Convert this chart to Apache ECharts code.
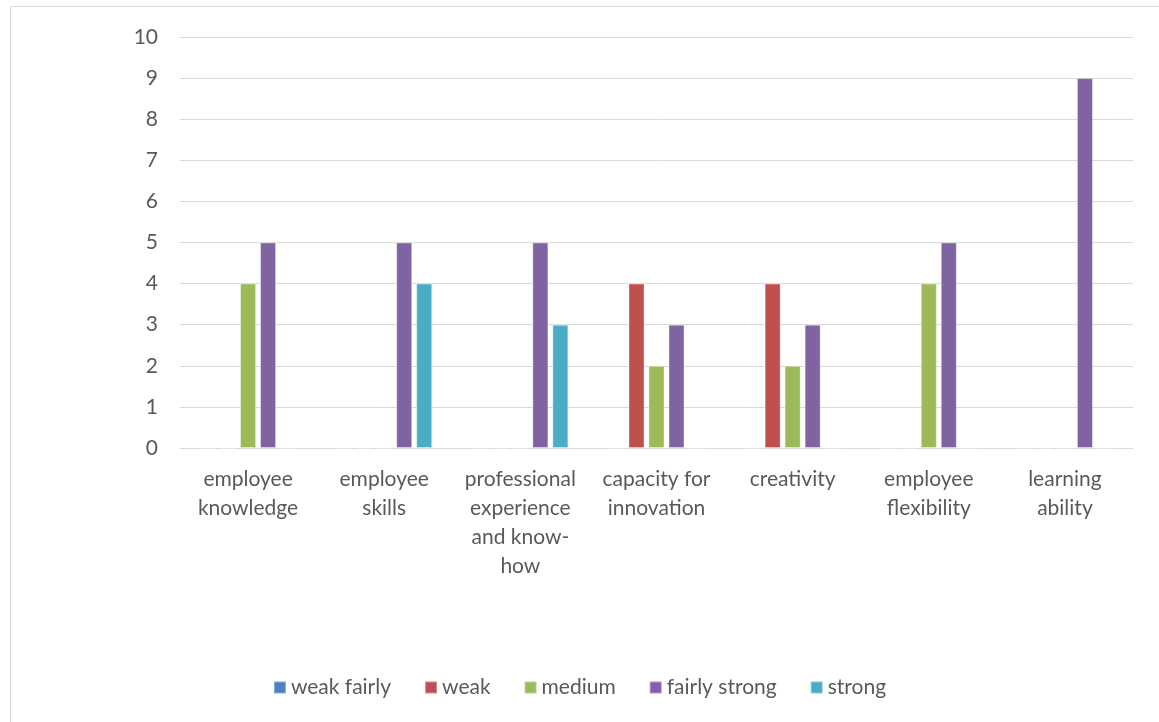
<!DOCTYPE html>
<html><head><meta charset="utf-8">
<script src="https://cdn.jsdelivr.net/npm/echarts@6/dist/echarts.min.js"></script>
<style>html,body{margin:0;padding:0;background:#fff}#c{width:1159px;height:722px}</style>
</head><body><div id="c"></div>
<script>
const categories = ["employee\nknowledge","employee\nskills","professional\nexperience\nand know-\nhow","capacity for\ninnovation","creativity","employee\nflexibility","learning\nability"];
const seriesNames = ["weak fairly","weak","medium","fairly strong","strong"];
const weakFairly = [0,0,0,0,0,0,0];
const weak = [0,0,0,4,4,0,0];
const medium = [4,0,0,2,2,4,0];
const fairlyStrong = [5,5,5,3,3,5,9];
const strong = [0,4,3,0,0,0,0];
const yTicks = [0,1,2,3,4,5,6,7,8,9,10];
const colors = ["#4F81BD","#C0504D","#9BBB59","#8064A2","#4BACC6"];
const values = [weakFairly, weak, medium, fairlyStrong, strong];
const font = "Lato, 'Open Sans', sans-serif";
const chart = echarts.init(document.getElementById('c'));
chart.setOption({
  animation:false,
  color: colors,
  textStyle:{fontFamily:font},
  graphic:[{type:'rect',shape:{x:10.5,y:6.5,width:1200,height:800},style:{fill:'none',stroke:'#d9d9d9',lineWidth:1},silent:true}],
  grid:{left:180,right:26,top:37,bottom:274,containLabel:false},
  xAxis:{type:'category',data:categories,
    axisLine:{lineStyle:{color:'#d9d9d9',width:1}},axisTick:{show:false},
    axisLabel:{color:'#595959',fontSize:21,lineHeight:29,margin:17,fontFamily:font,interval:0}},
  yAxis:{type:'value',min:yTicks[0],max:yTicks[yTicks.length-1],interval:1,
    axisLine:{show:false},axisTick:{show:false},
    splitLine:{lineStyle:{color:'#d9d9d9',width:1}},
    axisLabel:{color:'#595959',fontSize:21,margin:22,fontFamily:font}},
  legend:{bottom:19,left:'center',itemWidth:12,itemHeight:12,itemGap:33,icon:'rect',
    textStyle:{color:'#595959',fontSize:21,fontFamily:font},data:seriesNames},
  series: seriesNames.map((n,i)=>({name:n,type:'bar',data:values[i],barWidth:16,barGap:'25%',
    itemStyle:{color:colors[i],borderColor:'rgba(255,255,255,0.35)',borderWidth:1}}))
});
</script></body></html>
